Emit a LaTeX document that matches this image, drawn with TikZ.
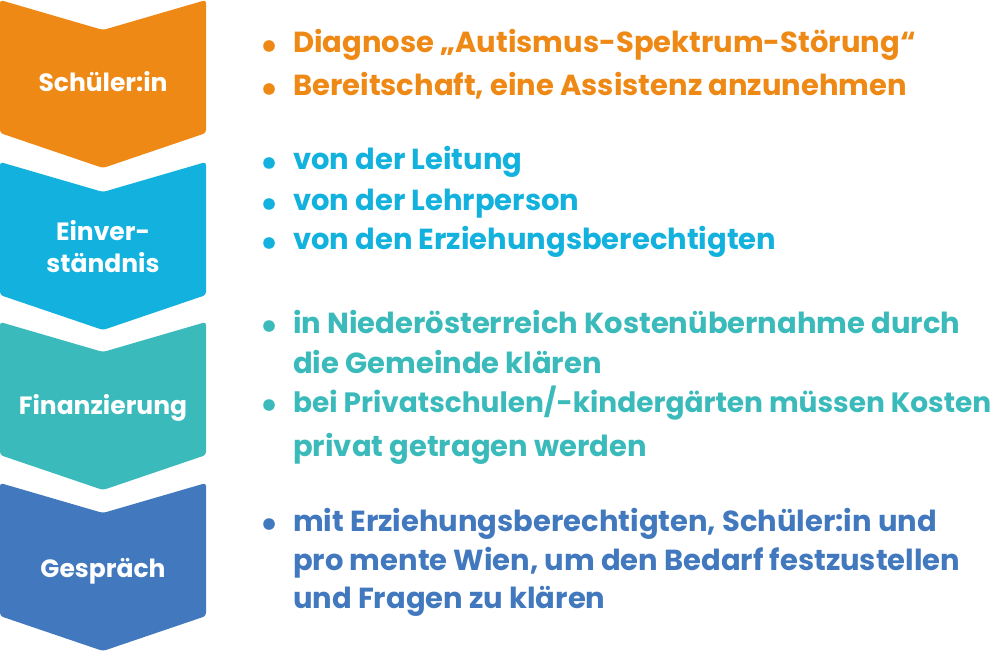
\documentclass[tikz,border=0pt]{standalone}
\usepackage{fontspec}
\setmainfont{Poppins}
\usepackage{xcolor}
\definecolor{schuelerorange}{HTML}{EF8916}
\definecolor{einverblue}{HTML}{12B1DE}
\definecolor{finanzteal}{HTML}{3ABABA}
\definecolor{gespraechblue}{HTML}{4279BE}
\tikzset{
  chevlabel/.style={text=white, font=\bfseries\fontsize{25}{32}\selectfont, align=center},
  itemtext/.style={anchor=base west, inner sep=0pt, font=\bfseries\fontsize{29}{34}\selectfont},
}
\begin{document}
\begin{tikzpicture}[x=1pt,y=-1pt]
\useasboundingbox (0,0) rectangle (1000,652);

% Schueler:in
\fill[schuelerorange, rounded corners=3pt] (0,0) -- (103,30) -- (206,0) -- (206,133) -- (103,168) -- (0,133) -- cycle;
\node[chevlabel] (schueler) at (103,82) {Schüler:in};
\fill[schuelerorange] (269,46) circle (5.8pt);
\node[itemtext, text=schuelerorange] (diagnose) at (293,53) {Diagnose „Autismus-Spektrum-Störung“};
\fill[schuelerorange] (269,89) circle (5.8pt);
\node[itemtext, text=schuelerorange] (bereit) at (293,96) {Bereitschaft, eine Assistenz anzunehmen};

% Einverstaendnis
\fill[einverblue, rounded corners=3pt] (0,162) -- (103,192) -- (206,162) -- (206,295) -- (103,330) -- (0,295) -- cycle;
\node[chevlabel] (einver) at (103,247) {Einver-\\ständnis};
\fill[einverblue] (269,163) circle (5.8pt);
\node[itemtext, text=einverblue] (leitung) at (293,170) {von der Leitung};
\fill[einverblue] (269,204) circle (5.8pt);
\node[itemtext, text=einverblue] (lehrer) at (293,211) {von der Lehrperson};
\fill[einverblue] (269,243) circle (5.8pt);
\node[itemtext, text=einverblue] (eltern) at (293,250) {von den Erziehungsberechtigten};

% Finanzierung
\fill[finanzteal, rounded corners=3pt] (0,322) -- (103,352) -- (206,322) -- (206,455) -- (103,490) -- (0,455) -- cycle;
\node[chevlabel] (finanz) at (103,408) {Finanzierung};
\fill[finanzteal] (269,326) circle (5.8pt);
\node[itemtext, text=finanzteal] (noe) at (293,333) {in Niederösterreich Kostenübernahme durch};
\node[itemtext, text=finanzteal] (noe2) at (293,373) {die Gemeinde klären};
\fill[finanzteal] (269,405) circle (5.8pt);
\node[itemtext, text=finanzteal, font=\bfseries\fontsize{28}{34}\selectfont] (privat) at (293,412) {bei Privatschulen/-kindergärten müssen Kosten};
\node[itemtext, text=finanzteal] (privat2) at (293,456) {privat getragen werden};

% Gespraech
\fill[gespraechblue, rounded corners=3pt] (0,483) -- (103,513) -- (206,483) -- (206,616) -- (103,651) -- (0,616) -- cycle;
\node[chevlabel] (gespraech) at (103,571) {Gespräch};
\fill[gespraechblue] (269,524) circle (5.8pt);
\node[itemtext, text=gespraechblue] (mit) at (293,531) {mit Erziehungsberechtigten, Schüler:in und};
\node[itemtext, text=gespraechblue] (mit2) at (293,570) {pro mente Wien, um den Bedarf festzustellen};
\node[itemtext, text=gespraechblue] (mit3) at (293,608) {und Fragen zu klären};
\end{tikzpicture}
\end{document}
